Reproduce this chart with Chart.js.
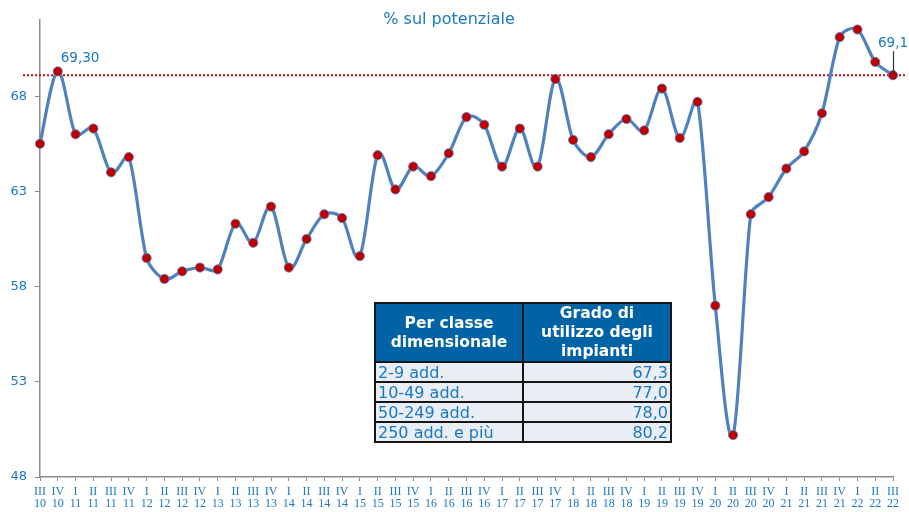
<!DOCTYPE html>
<html>
<head>
<meta charset="utf-8">
<script src="https://cdn.jsdelivr.net/npm/chart.js@4.4.1/dist/chart.umd.min.js"></script>
<style>
  html, body { margin: 0; padding: 0; background: #ffffff; }
  #wrap { position: relative; width: 909px; height: 512px; }
  #c { position: absolute; left: 0; top: 0; }
  #tbl { position: absolute; left: 374px; top: 302px; border-collapse: collapse; font-family: "DejaVu Sans", Verdana, sans-serif; }
  #tbl td, #tbl th { border: 2px solid #161616; padding: 0 2px; box-sizing: border-box; }
  #tbl th { background: #0063A6; color: #ffffff; font-weight: bold; font-size: 15.5px; line-height: 19px; text-align: center; height: 59px; width: 148px; }
  #tbl td { background: #E9EDF4; color: #1A78C2; font-size: 16px; line-height: 17px; height: 20px; width: 148px; white-space: nowrap; }
  #tbl td.v { text-align: right; }
</style>
</head>
<body>
<div id="wrap">
  <canvas id="c" width="909" height="512"></canvas>
  <table id="tbl">
    <tr><th>Per classe<br>dimensionale</th><th>Grado di<br>utilizzo degli<br>impianti</th></tr>
  </table>
</div>
<script>
// ---- data ----
const categories = [
  'III 10','IV 10','I 11','II 11','III 11','IV 11','I 12','II 12','III 12','IV 12',
  'I 13','II 13','III 13','IV 13','I 14','II 14','III 14','IV 14','I 15','II 15',
  'III 15','IV 15','I 16','II 16','III 16','IV 16','I 17','II 17','III 17','IV 17',
  'I 18','II 18','III 18','IV 18','I 19','II 19','III 19','IV 19','I 20','II 20',
  'III 20','IV 20','I 21','II 21','III 21','IV 21','I 22','II 22','III 22'
];
const values = [
  65.5, 69.3, 66.0, 66.3, 64.0, 64.8, 59.5, 58.4, 58.8, 59.0,
  58.9, 61.3, 60.3, 62.2, 59.0, 60.5, 61.8, 61.6, 59.6, 64.9,
  63.1, 64.3, 63.8, 65.0, 66.9, 66.5, 64.3, 66.3, 64.3, 68.9,
  65.7, 64.8, 66.0, 66.8, 66.2, 68.4, 65.8, 67.7, 57.0, 50.2,
  61.8, 62.7, 64.2, 65.1, 67.1, 71.1, 71.5, 69.8, 69.1
];
const yTicks = [48, 53, 58, 63, 68];
const yMin = 48, yMax = 72;
const refValue = 69.1;
const titleText = '% sul potenziale';
const pointLabels = [ { index: 1, text: '69,30' }, { index: 48, text: '69,1' } ];
const tableClasses = ['2-9 add.', '10-49 add.', '50-249 add.', '250 add. e più'];
const tableValues = ['67,3', '77,0', '78,0', '80,2'];

// ---- table ----
const tbl = document.getElementById('tbl');
tableClasses.forEach((c, i) => {
  const tr = document.createElement('tr');
  const a = document.createElement('td'); a.textContent = c;
  const b = document.createElement('td'); b.className = 'v'; b.textContent = tableValues[i];
  tr.appendChild(a); tr.appendChild(b); tbl.appendChild(tr);
});

const BLUE = '#1A78C2';

// Spreadsheet-style smoothing on the library's own point positions:
// Catmull-Rom tangent direction, each handle limited to a third of its own segment
const smoothing = {
  id: 'smoothing',
  beforeDatasetDraw(chart, args) {
    const meta = args.meta, line = meta.dataset, pts = meta.data;
    line.updateControlPoints(chart.chartArea, 'x');
    const dist = (a, b) => Math.hypot(a.x - b.x, a.y - b.y);
    for (let i = 0; i < pts.length; i++) {
      const p = pts[i], prev = pts[i - 1] || p, next = pts[i + 1] || p;
      const dx = next.x - prev.x, dy = next.y - prev.y;
      const d02 = Math.hypot(dx, dy);
      let fa = 0, fb = 0;
      if (d02 > 0) {
        fa = Math.min(d02 / 6, dist(prev, p) / 3) / d02;
        fb = Math.min(d02 / 6, dist(p, next) / 3) / d02;
      }
      p.cp1x = p.x - dx * fa; p.cp1y = p.y - dy * fa;
      p.cp2x = p.x + dx * fb; p.cp2y = p.y + dy * fb;
    }
    line._path = undefined;
  }
};

const extras = {
  id: 'extras',
  beforeDatasetsDraw(chart) {
    const ctx = chart.ctx, y = chart.scales.y.getPixelForValue(refValue);
    ctx.save();
    ctx.strokeStyle = '#D01010';
    ctx.lineWidth = 2;
    ctx.setLineDash([2, 2]);
    ctx.beginPath();
    ctx.moveTo(23, y); ctx.lineTo(906, y);
    ctx.stroke();
    ctx.restore();
  },
  afterDraw(chart) {
    const ctx = chart.ctx, xs = chart.scales.x, ys = chart.scales.y;
    ctx.save();
    ctx.fillStyle = BLUE;
    ctx.font = '16px "DejaVu Sans", Verdana, sans-serif';
    ctx.textAlign = 'center'; ctx.textBaseline = 'middle';
    ctx.fillText(titleText, 449, 20);
    ctx.font = '13.5px "DejaVu Sans", Verdana, sans-serif';
    ctx.textBaseline = 'alphabetic';
    const p1 = pointLabels[0];
    const x1 = xs.getPixelForValue(p1.index), y1 = ys.getPixelForValue(values[p1.index]);
    ctx.textAlign = 'left';
    ctx.fillText(p1.text, x1 + 3, y1 - 9);
    const p2 = pointLabels[1];
    const x2 = xs.getPixelForValue(p2.index), y2 = ys.getPixelForValue(values[p2.index]);
    ctx.strokeStyle = '#333333'; ctx.lineWidth = 1.2;
    ctx.beginPath(); ctx.moveTo(x2 + 0.5, y2 - 24); ctx.lineTo(x2 + 0.5, y2); ctx.stroke();
    ctx.textAlign = 'left';
    ctx.fillText(p2.text, x2 - 15, y2 - 28);
    ctx.restore();
  }
};

new Chart(document.getElementById('c'), {
  type: 'line',
  data: {
    labels: categories.map(c => c.split(' ')),
    datasets: [{
      data: values,
      borderColor: '#4F81BD',
      borderWidth: 3.2,
      tension: 0.3,
      pointRadius: 4.6,
      pointBackgroundColor: '#C00000',
      pointBorderColor: 'rgba(79,129,189,0.85)',
      pointBorderWidth: 1,
      fill: false
    }]
  },
  options: {
    responsive: false,
    animation: false,
    events: [],
    layout: { padding: { top: 20, right: 16, left: 0, bottom: 0 } },
    plugins: { legend: { display: false }, title: { display: false }, tooltip: { enabled: false } },
    scales: {
      x: {
        offset: false,
        grid: { display: true, drawOnChartArea: false, drawTicks: true, tickLength: 4, color: '#8c8c8c', offset: false },
        border: { display: true, color: '#8c8c8c', width: 1.5 },
        ticks: {
          autoSkip: false, maxRotation: 0, minRotation: 0, padding: 5,
          color: BLUE,
          font: { family: '"Liberation Serif", "Times New Roman", serif', size: 12, lineHeight: 1.0 }
        },
        afterFit(s) { s.height = 35; }
      },
      y: {
        min: yMin, max: yMax,
        afterBuildTicks(axis) { axis.ticks = yTicks.map(v => ({ value: v })); },
        grid: { display: true, drawOnChartArea: false, drawTicks: true, tickLength: 5, color: '#8c8c8c' },
        border: { display: true, color: '#8c8c8c', width: 1.5 },
        ticks: {
          padding: 8, color: BLUE,
          font: { family: '"DejaVu Sans", Verdana, sans-serif', size: 13 }
        },
        afterFit(s) { s.width = 40; }
      }
    }
  },
  plugins: [smoothing, extras]
});
</script>
</body>
</html>
